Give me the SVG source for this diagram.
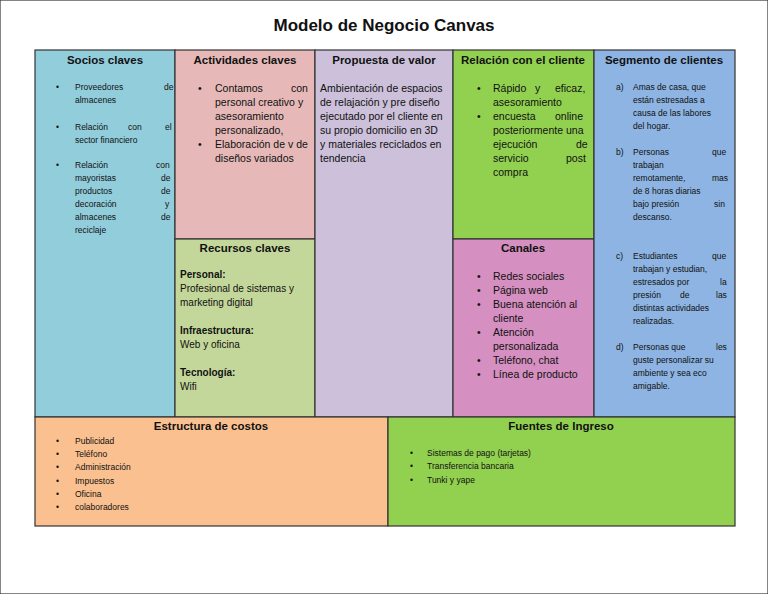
<svg xmlns="http://www.w3.org/2000/svg" width="768" height="594" viewBox="0 0 768 594">
<style>
rect{stroke:#333;stroke-width:1.2}
text{font-family:"Liberation Sans",Arial,sans-serif;fill:#111}
.h{font-size:11.5px;font-weight:bold;text-anchor:middle}
.t{font-size:10.5px}
.s{font-size:8.5px}
.b{font-size:10px}
</style>
<rect x="0" y="0" width="768" height="594" fill="#fff" stroke="none"/>
<text x="384" y="31" text-anchor="middle" style="font-size:17px;font-weight:bold">Modelo de Negocio Canvas</text>
<g id="socios"><rect x="35" y="50" width="140" height="367" fill="#92CDDC"/>
<text class="h" x="105" y="64">Socios claves</text>
<g class="s"><text x="56" y="90">•</text><text x="75" y="90">Proveedores<tspan x="164">de</tspan></text><text x="75" y="103">almacenes</text>
<text x="56" y="130">•</text><text x="75" y="130">Relación<tspan x="128">con</tspan><tspan x="165">el</tspan></text><text x="75" y="143">sector financiero</text>
<text x="56" y="168">•</text><text x="75" y="168">Relación<tspan x="156">con</tspan></text><text x="75" y="181">mayoristas<tspan x="161">de</tspan></text><text x="75" y="194">productos<tspan x="161">de</tspan></text><text x="75" y="207">decoración<tspan x="165">y</tspan></text><text x="75" y="220">almacenes<tspan x="161">de</tspan></text><text x="75" y="233">reciclaje</text></g></g>
<g id="actividades"><rect x="175" y="50" width="140" height="189" fill="#E6B9B8"/>
<text class="h" x="245" y="64">Actividades claves</text>
<g class="t"><text x="198" y="92">•</text><text x="215" y="92">Contamos<tspan x="291">con</tspan></text><text x="215" y="106">personal creativo y</text><text x="215" y="120">asesoramiento</text><text x="215" y="134">personalizado,</text>
<text x="198" y="148">•</text><text x="215" y="148">Elaboración de v de</text><text x="215" y="162">diseños variados</text></g></g>
<g id="recursos"><rect x="175" y="239" width="140" height="178" fill="#C4D79B"/>
<text class="h" x="245" y="252">Recursos claves</text>
<g class="b"><text x="180" y="278" font-weight="bold">Personal:</text><text x="180" y="292">Profesional de sistemas y</text><text x="180" y="306">marketing digital</text>
<text x="180" y="334" font-weight="bold">Infraestructura:</text><text x="180" y="348">Web y oficina</text>
<text x="180" y="376" font-weight="bold">Tecnología:</text><text x="180" y="390">Wifi</text></g></g>
<g id="propuesta"><rect x="315" y="50" width="138" height="367" fill="#CCC0DA"/>
<text class="h" x="384" y="64">Propuesta de valor</text>
<g class="t"><text x="320" y="92">Ambientación de espacios</text><text x="320" y="106">de relajación y pre diseño</text><text x="320" y="120">ejecutado por el cliente en</text><text x="320" y="134">su propio domicilio en 3D</text><text x="320" y="148">y materiales reciclados en</text><text x="320" y="162">tendencia</text></g></g>
<g id="relacion"><rect x="453" y="50" width="141" height="189" fill="#92D050"/>
<text class="h" x="523" y="64">Relación con el cliente</text>
<g class="t"><text x="477" y="92">•</text><text x="493" y="92">Rápido<tspan x="535">y</tspan><tspan x="555">eficaz,</tspan></text><text x="493" y="106">asesoramiento</text>
<text x="477" y="120">•</text><text x="493" y="120">encuesta<tspan x="555">online</tspan></text><text x="493" y="134">posteriormente una</text><text x="493" y="148">ejecución<tspan x="576">de</tspan></text><text x="493" y="162">servicio<tspan x="566">post</tspan></text><text x="493" y="176">compra</text></g></g>
<g id="canales"><rect x="453" y="239" width="141" height="178" fill="#D58FC0"/>
<text class="h" x="523" y="252">Canales</text>
<g class="t"><text x="477" y="280">•</text><text x="493" y="280">Redes sociales</text>
<text x="477" y="294">•</text><text x="493" y="294">Página web</text>
<text x="477" y="308">•</text><text x="493" y="308">Buena atención al</text><text x="493" y="322">cliente</text>
<text x="477" y="336">•</text><text x="493" y="336">Atención</text><text x="493" y="350">personalizada</text>
<text x="477" y="364">•</text><text x="493" y="364">Teléfono, chat</text>
<text x="477" y="378">•</text><text x="493" y="378">Línea de producto</text></g></g>
<g id="segmento"><rect x="594" y="50" width="141" height="367" fill="#8DB4E2"/>
<text class="h" x="664" y="64">Segmento de clientes</text>
<g class="s"><text x="616" y="90">a)</text><text x="633" y="90">Amas de casa, que</text><text x="633" y="103">están estresadas a</text><text x="633" y="116">causa de las labores</text><text x="633" y="129">del hogar.</text>
<text x="616" y="155">b)</text><text x="633" y="155">Personas<tspan x="712">que</tspan></text><text x="633" y="168">trabajan</text><text x="633" y="181">remotamente,<tspan x="712">mas</tspan></text><text x="633" y="194">de 8 horas diarias</text><text x="633" y="207">bajo presión<tspan x="714">sin</tspan></text><text x="633" y="220">descanso.</text>
<text x="616" y="259">c)</text><text x="633" y="259">Estudiantes<tspan x="712">que</tspan></text><text x="633" y="272">trabajan y estudian,</text><text x="633" y="285">estresados por<tspan x="720">la</tspan></text><text x="633" y="298">presión<tspan x="680">de</tspan><tspan x="716">las</tspan></text><text x="633" y="311">distintas actividades</text><text x="633" y="324">realizadas.</text>
<text x="616" y="350">d)</text><text x="633" y="350">Personas que<tspan x="716">les</tspan></text><text x="633" y="363">guste personalizar su</text><text x="633" y="376">ambiente y sea eco</text><text x="633" y="389">amigable.</text></g></g>
<g id="costos"><rect x="35" y="417" width="353" height="109" fill="#FAC090"/>
<text class="h" x="211" y="430">Estructura de costos</text>
<g class="s"><text x="56" y="444">•</text><text x="75" y="444">Publicidad</text><text x="56" y="457">•</text><text x="75" y="457">Teléfono</text><text x="56" y="470">•</text><text x="75" y="470">Administración</text><text x="56" y="484">•</text><text x="75" y="484">Impuestos</text><text x="56" y="497">•</text><text x="75" y="497">Oficina</text><text x="56" y="510">•</text><text x="75" y="510">colaboradores</text></g></g>
<g id="ingresos"><rect x="388" y="417" width="347" height="109" fill="#92D050"/>
<text class="h" x="561" y="430">Fuentes de Ingreso</text>
<g class="s"><text x="410" y="456">•</text><text x="427" y="456">Sistemas de pago (tarjetas)</text><text x="410" y="469">•</text><text x="427" y="469">Transferencia bancaria</text><text x="410" y="483">•</text><text x="427" y="483">Tunki y yape</text></g></g>
<g id="connectors"/>
</svg>
